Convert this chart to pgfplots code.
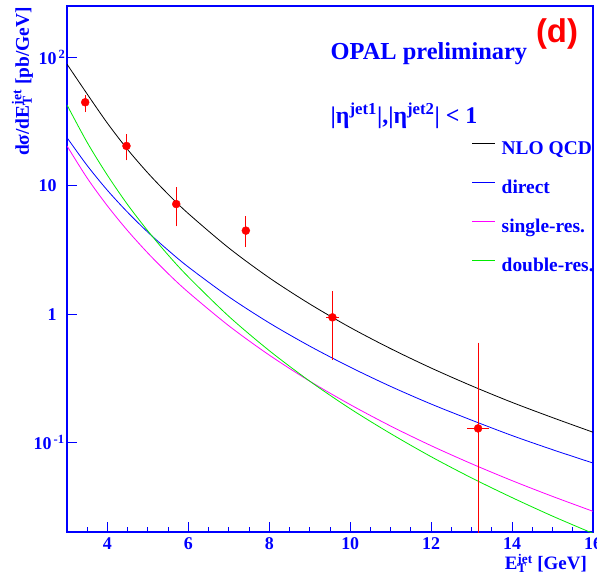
\documentclass[border=0pt]{standalone}
\usepackage{fontspec}
\setmainfont{Liberation Serif}
\newfontfamily\helv{Liberation Sans}
\usepackage{pgfplots}
\pgfplotsset{compat=1.18}
\definecolor{rootblue}{RGB}{0,0,255}
\definecolor{rootgreen}{RGB}{0,235,0}
\definecolor{rootmag}{RGB}{255,0,255}
\definecolor{rootred}{RGB}{255,0,0}
\newcommand{\tickfont}{\bfseries\fontsize{18}{18}\selectfont}

\begin{document}
\begin{tikzpicture}
\path[use as bounding box] (-67bp,-50bp) rectangle (530bp,532bp);
\begin{axis}[
  at={(0bp,0bp)}, anchor=south west,
  scale only axis, width=526bp, height=526bp,
  ymode=log, log basis y=10,
  xmin=3, xmax=16, ymin=0.02, ymax=253,
  xtick={4,6,...,16}, minor xtick={3,3.5,...,16},
  ytick={0.1,1,10,100},
  yticklabels={10\rlap{\textsuperscript{\,-1}}\hspace*{5bp},1,10,10\rlap{\textsuperscript{\,2}}},
  xtick pos=left, ytick pos=left,
  axis line style={rootblue, line width=1.2pt},
  major tick length=10bp, minor tick length=5bp,
  tick style={rootblue, line width=1pt},
  /pgf/number format/assume math mode=true,
  tick label style={font=\tickfont, text=rootblue},
  yticklabel style={xshift=-7bp},
  xticklabel style={yshift=-2bp},
  xlabel={E\rlap{\textsubscript{T}}\textsuperscript{jet} [GeV]},
  xlabel style={at={(rel axis cs:1,0)}, anchor=north east, inner sep=0pt,
    xshift=-6bp, yshift=-22bp, text=rootblue, font=\bfseries\fontsize{19}{19}\selectfont},
  ylabel={dσ/dE\rlap{\textsubscript{T}}\textsuperscript{jet} [pb/GeV]},
  ylabel style={at={(rel axis cs:-0.0846,0.998)}, anchor=east, inner sep=0pt,
    text=rootblue, font=\bfseries\fontsize{19.5}{19.5}\selectfont},
  legend style={at={(rel axis cs:0.7694,0.7447)}, anchor=north west,
    draw=none, fill=none, inner sep=0pt, row sep=21bp, column sep=6bp,
    nodes={inner sep=0pt, text height=14bp, text depth=4bp},
    font=\bfseries\fontsize{19.5}{19.5}\selectfont, text=rootblue},
  legend cell align=left,
  legend image code/.code={\draw[#1] (0bp,6.5bp) -- (23bp,6.5bp);},
]
% NLO QCD
\addplot[color=black, line width=0.8pt, smooth] coordinates {
 (3,89.0) (3.5,52.0) (4,30.8) (4.5,19.2) (5,12.6) (5.5,8.61) (6,6.08)
 (7,3.28) (8,1.92) (9,1.20) (10,0.787) (11,0.538) (12,0.380) (13,0.276)
 (14,0.205) (15,0.156) (16,0.120)};
\addlegendentry{NLO QCD}
% direct
\addplot[color=rootblue, line width=0.8pt, smooth] coordinates {
 (3,23.8) (3.5,14.4) (4,9.23) (4.5,6.22) (5,4.35) (5.5,3.15) (6,2.33)
 (7,1.365) (8,0.854) (9,0.563) (10,0.386) (11,0.273) (12,0.199) (13,0.149)
 (14,0.113) (15,0.0877) (16,0.069)};
\addlegendentry{direct}
% single-resolved
\addplot[color=rootmag, line width=0.8pt, smooth] coordinates {
 (3,20.5) (3.5,11.5) (4,6.98) (4.5,4.47) (5,2.99) (5.5,2.07) (6,1.48)
 (7,0.811) (8,0.479) (9,0.300) (10,0.197) (11,0.134) (12,0.0942) (13,0.0681)
 (14,0.0503) (15,0.0379) (16,0.029)};
\addlegendentry{single-res.}
% double-resolved
\addplot[color=rootgreen, line width=0.8pt, smooth] coordinates {
 (3,42.8) (3.5,21.8) (4,12.1) (4.5,7.13) (5,4.45) (5.5,2.89) (6,1.95)
 (7,0.961) (8,0.519) (9,0.300) (10,0.183) (11,0.117) (12,0.0773) (13,0.0528)
 (14,0.0371) (15,0.0266) (16,0.0195)};
\addlegendentry{double-res.}
% OPAL data
\addplot[forget plot, only marks, mark=*, mark size=4bp, color=rootred,
  error bars/.cd, x dir=both, x explicit, y dir=both, y explicit,
  error bar style={line width=1pt, rootred},
  error mark options={mark size=3bp, line width=1pt, rootred}]
 coordinates {
 (3.45,44.9) += (0,3.3) -= (0,5.1)
 (4.47,20.5) += (0,3.4) -= (0,3.8)
 (5.70,7.22) += (0,2.07) -= (0,2.11)
 (7.42,4.48) += (0,1.01) -= (0,0.96)
 (9.56,0.944) += (0.08,0.486) -= (0.08,0.478)
 (13.16,0.1285) += (0.2,0.4385) -= (0.2,0.12)
 };
\node[anchor=base west, inner sep=0pt, text=rootblue,
  font=\bfseries\fontsize{24.5}{24.5}\selectfont]
  at (rel axis cs:0.501,0.899) {OPAL preliminary};
\node[inner sep=0pt, text=rootred, font=\helv\bfseries\fontsize{33}{33}\selectfont]
  at (rel axis cs:0.9316,0.947) {(d)};
\node[anchor=base west, inner sep=0pt, text=rootblue,
  font=\bfseries\fontsize{24}{24}\selectfont]
  at (rel axis cs:0.501,0.776) {|η\textsuperscript{jet1}|,|η\textsuperscript{jet2}| < 1};
\end{axis}
\end{tikzpicture}
\end{document}
